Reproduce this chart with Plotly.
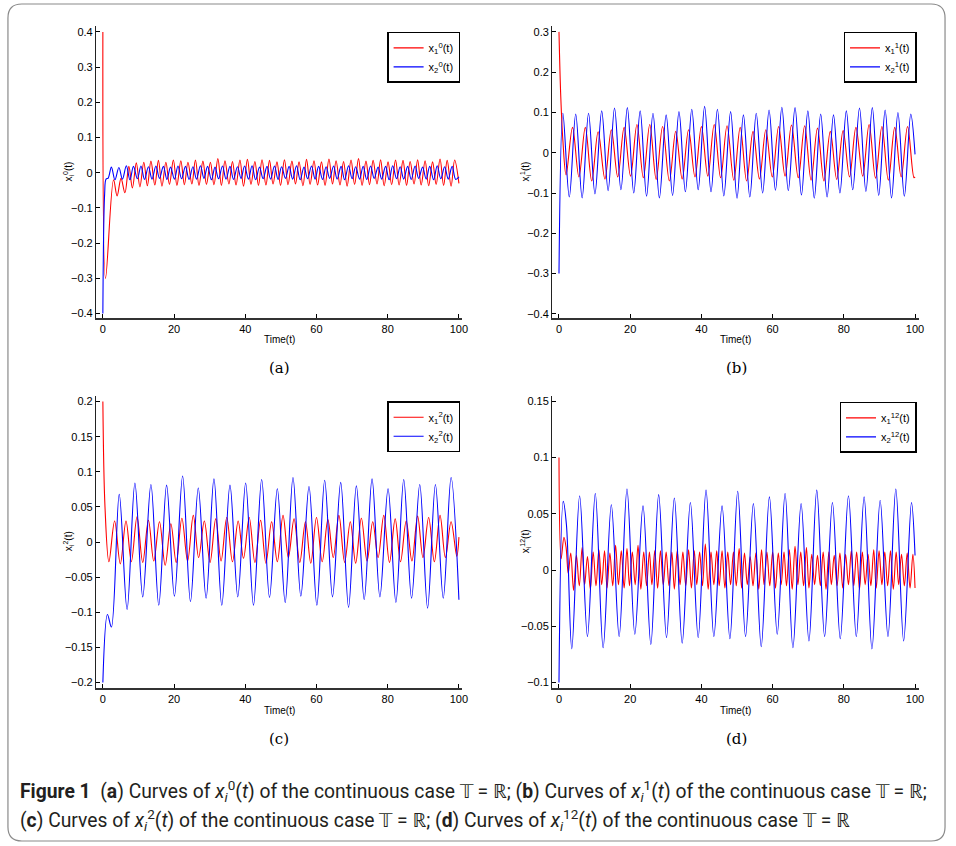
import plotly.graph_objects as go

# ---------------- data ----------------
x_ticks = [0, 20, 40, 60, 80, 100]
x_tick_labels = ["0", "20", "40", "60", "80", "100"]

a_y_ticks = [-0.4, -0.3, -0.2, -0.1, 0, 0.1, 0.2, 0.3, 0.4]
a_y_labels = ["−0.4", "−0.3", "−0.2", "−0.1", "0", "0.1", "0.2", "0.3", "0.4"]
b_y_ticks = [-0.4, -0.3, -0.2, -0.1, 0, 0.1, 0.2, 0.3]
b_y_labels = ["−0.4", "−0.3", "−0.2", "−0.1", "0", "0.1", "0.2", "0.3"]
c_y_ticks = [-0.2, -0.15, -0.1, -0.05, 0, 0.05, 0.1, 0.15, 0.2]
c_y_labels = ["−0.2", "−0.15", "−0.1", "−0.05", "0", "0.05", "0.1", "0.15", "0.2"]
d_y_ticks = [-0.1, -0.05, 0, 0.05, 0.1, 0.15]
d_y_labels = ["−0.1", "−0.05", "0", "0.05", "0.1", "0.15"]

panel_labels = ["(a)", "(b)", "(c)", "(d)"]
x_title = "Time(t)"
y_titles = ["x<sub>i</sub><sup>0</sup>(t)", "x<sub>i</sub><sup>1</sup>(t)",
            "x<sub>i</sub><sup>2</sup>(t)", "x<sub>i</sub><sup>12</sup>(t)"]
legend_names = [["x<sub>1</sub><sup>0</sup>(t)", "x<sub>2</sub><sup>0</sup>(t)"],
                ["x<sub>1</sub><sup>1</sup>(t)", "x<sub>2</sub><sup>1</sup>(t)"],
                ["x<sub>1</sub><sup>2</sup>(t)", "x<sub>2</sub><sup>2</sup>(t)"],
                ["x<sub>1</sub><sup>12</sup>(t)", "x<sub>2</sub><sup>12</sup>(t)"]]

# ---- panel (a), red x1^0 ----
a_red_t_init = [0, 0.75, 3.0, 4.0, 5.1, 6.2]
a_red_v_init = [0.40, -0.30, -0.020, -0.066, -0.016, -0.057]
a_red_t_hi = [7.3, 9.4, 11.5, 13.5, 15.6, 17.7, 19.8, 21.9, 23.9, 26.0, 28.1, 30.2, 32.3, 34.3, 36.4,
              38.5, 40.6, 42.7, 44.7, 46.8, 48.9, 51.0, 53.1, 55.1, 57.2, 59.3, 61.4, 63.5, 65.5, 67.6,
              69.7, 71.8, 73.9, 75.9, 78.0, 80.1, 82.2, 84.3, 86.3, 88.4, 90.5, 92.6, 94.7, 96.7, 98.8]
a_red_v_hi = [0.018, 0.028, 0.030, 0.033, 0.035, 0.030, 0.036, 0.034, 0.030, 0.036,
              0.033, 0.030, 0.040, 0.034, 0.032, 0.036, 0.038, 0.032, 0.037, 0.035,
              0.031, 0.037, 0.033, 0.031, 0.038, 0.034, 0.031, 0.039, 0.034, 0.032,
              0.036, 0.040, 0.033, 0.035, 0.037, 0.031, 0.036, 0.035, 0.032, 0.037,
              0.034, 0.031, 0.039, 0.035, 0.036]
a_red_t_lo = [8.3, 10.4, 12.5, 14.6, 16.6, 18.7, 20.8, 22.9, 25.0, 27.0, 29.1, 31.2, 33.3, 35.4, 37.4,
              39.5, 41.6, 43.7, 45.8, 47.8, 49.9, 52.0, 54.1, 56.2, 58.2, 60.3, 62.4, 64.5, 66.6, 68.6,
              70.7, 72.8, 74.9, 77.0, 79.0, 81.1, 83.2, 85.3, 87.4, 89.4, 91.5, 93.6, 95.7, 97.8, 100.0]
a_red_v_lo = [-0.043, -0.040, -0.037, -0.035, -0.038, -0.033, -0.036, -0.034, -0.032, -0.036,
              -0.033, -0.034, -0.036, -0.032, -0.035, -0.038, -0.033, -0.036, -0.035, -0.032,
              -0.036, -0.034, -0.032, -0.037, -0.033, -0.035, -0.036, -0.032, -0.035, -0.038,
              -0.033, -0.036, -0.034, -0.032, -0.037, -0.034, -0.035, -0.036, -0.032, -0.035,
              -0.037, -0.033, -0.036, -0.038, -0.030]

# ---- panel (a), blue x2^0 ----
a_blue_t_init = [0, 0.5, 0.9, 1.5]
a_blue_v_init = [-0.40, -0.06, -0.018, -0.015]
a_blue_t_hi = [2.4, 4.5, 6.6, 8.6, 10.7, 12.8, 14.9, 17.0, 19.0, 21.1, 23.2, 25.3, 27.4, 29.4, 31.5,
               33.6, 35.7, 37.8, 39.8, 41.9, 44.0, 46.1, 48.2, 50.2, 52.3, 54.4, 56.5, 58.6, 60.6, 62.7,
               64.8, 66.9, 69.0, 71.0, 73.1, 75.2, 77.3, 79.4, 81.4, 83.5, 85.6, 87.7, 89.8, 91.8, 93.9,
               96.0, 98.1]
a_blue_v_hi = [0.016, 0.015, 0.020, 0.018, 0.019, 0.017, 0.019, 0.018, 0.016, 0.019,
               0.018, 0.017, 0.020, 0.018, 0.016, 0.019, 0.018, 0.017, 0.019, 0.020,
               0.016, 0.018, 0.019, 0.017, 0.018, 0.020, 0.016, 0.019, 0.018, 0.017,
               0.019, 0.018, 0.020, 0.017, 0.018, 0.019, 0.016, 0.018, 0.020, 0.017,
               0.018, 0.019, 0.016, 0.018, 0.020, 0.017, 0.018]
a_blue_t_lo = [3.4, 5.5, 7.6, 9.7, 11.7, 13.8, 15.9, 18.0, 20.1, 22.1, 24.2, 26.3, 28.4, 30.5, 32.5,
               34.6, 36.7, 38.8, 40.9, 42.9, 45.0, 47.1, 49.2, 51.3, 53.3, 55.4, 57.5, 59.6, 61.7, 63.7,
               65.8, 67.9, 70.0, 72.1, 74.1, 76.2, 78.3, 80.4, 82.5, 84.5, 86.6, 88.7, 90.8, 92.9, 94.9,
               97.0, 99.1, 100.0]
a_blue_v_lo = [-0.020, -0.018, -0.020, -0.017, -0.019, -0.018, -0.016, -0.019, -0.018, -0.017,
               -0.019, -0.018, -0.016, -0.020, -0.017, -0.018, -0.019, -0.016, -0.018, -0.020,
               -0.017, -0.018, -0.019, -0.016, -0.018, -0.020, -0.017, -0.018, -0.019, -0.016,
               -0.018, -0.020, -0.017, -0.018, -0.019, -0.016, -0.018, -0.020, -0.017, -0.018,
               -0.019, -0.016, -0.018, -0.020, -0.017, -0.018, -0.019, -0.012]

# ---- panel (b), red x1^1 ----
b_red_t_init = [0, 0.5, 1.1]
b_red_v_init = [0.30, 0.14, 0.03]
b_red_t_hi = [3.8, 7.4, 11.0, 14.7, 18.3, 21.9, 25.5, 29.1, 32.8, 36.4, 40.0, 43.6, 47.2, 50.9,
              54.5, 58.1, 61.7, 65.3, 69.0, 72.6, 76.2, 79.8, 83.4, 87.1, 90.7, 94.3, 97.9]
b_red_v_hi = [0.063, 0.063, 0.052, 0.057, 0.063, 0.070, 0.070, 0.065, 0.053, 0.057,
              0.065, 0.070, 0.067, 0.063, 0.053, 0.057, 0.065, 0.069, 0.067, 0.061,
              0.053, 0.055, 0.063, 0.070, 0.065, 0.063, 0.065]
b_red_t_lo = [2.0, 5.6, 9.2, 12.9, 16.5, 20.1, 23.7, 27.3, 31.0, 34.6, 38.2, 41.8, 45.4, 49.1,
              52.7, 56.3, 59.9, 63.5, 67.2, 70.8, 74.4, 78.0, 81.6, 85.3, 88.9, 92.5, 96.1, 99.7, 100.0]
b_red_v_lo = [-0.055, -0.060, -0.070, -0.065, -0.060, -0.058, -0.062, -0.066, -0.070, -0.065,
              -0.060, -0.058, -0.062, -0.068, -0.070, -0.065, -0.060, -0.058, -0.062, -0.068,
              -0.070, -0.066, -0.060, -0.058, -0.063, -0.068, -0.060, -0.062, -0.060]

# ---- panel (b), blue x2^1 ----
b_blue_t_init = [0]
b_blue_v_init = [-0.30]
b_blue_t_hi = [1.1, 4.7, 8.3, 12.0, 15.6, 19.2, 22.8, 26.4, 30.1, 33.7, 37.3, 40.9, 44.5, 48.2,
               51.8, 55.4, 59.0, 62.6, 66.3, 69.9, 73.5, 77.1, 80.7, 84.4, 88.0, 91.6, 95.2, 98.8]
b_blue_v_hi = [0.098, 0.096, 0.098, 0.104, 0.111, 0.112, 0.104, 0.098, 0.094, 0.102,
               0.108, 0.115, 0.108, 0.102, 0.094, 0.098, 0.106, 0.113, 0.112, 0.104,
               0.096, 0.094, 0.104, 0.111, 0.112, 0.106, 0.100, 0.096]
b_blue_t_lo = [2.9, 6.5, 10.1, 13.8, 17.4, 21.0, 24.6, 28.2, 31.9, 35.5, 39.1, 42.7, 46.3, 50.0,
               53.6, 57.2, 60.8, 64.4, 68.1, 71.7, 75.3, 78.9, 82.5, 86.2, 89.8, 93.4, 97.0, 100.0]
b_blue_v_lo = [-0.110, -0.112, -0.102, -0.094, -0.092, -0.100, -0.108, -0.112, -0.106, -0.097,
               -0.092, -0.097, -0.107, -0.113, -0.110, -0.100, -0.093, -0.094, -0.105, -0.113,
               -0.110, -0.100, -0.092, -0.096, -0.106, -0.112, -0.108, -0.004]

# ---- panel (c), red x1^2 ----
c_red_t_init = [0, 0.6]
c_red_v_init = [0.20, 0.05]
c_red_t_hi = [3.3, 6.5, 9.6, 12.8, 15.9, 19.1, 22.2, 25.4, 28.5, 31.7, 34.8, 38.0, 41.1, 44.3, 47.4,
              50.6, 53.7, 56.9, 60.0, 63.2, 66.3, 69.5, 72.6, 75.8, 78.9, 82.1, 85.2, 88.4, 91.5, 94.7,
              97.8]
c_red_v_hi = [0.030, 0.030, 0.036, 0.031, 0.029, 0.026, 0.034, 0.038, 0.030, 0.033,
              0.035, 0.030, 0.035, 0.031, 0.029, 0.038, 0.033, 0.029, 0.035, 0.032,
              0.038, 0.029, 0.034, 0.029, 0.038, 0.033, 0.030, 0.037, 0.035, 0.038,
              0.029]
c_red_t_lo = [1.7, 4.9, 8.0, 11.2, 14.3, 17.5, 20.6, 23.8, 26.9, 30.1, 33.2, 36.4, 39.5, 42.7, 45.8,
              49.0, 52.1, 55.3, 58.4, 61.6, 64.7, 67.9, 71.0, 74.2, 77.3, 80.5, 83.6, 86.8, 89.9, 93.1,
              96.2, 99.4, 100.0]
c_red_v_lo = [-0.028, -0.031, -0.028, -0.029, -0.027, -0.033, -0.029, -0.027, -0.022, -0.029,
              -0.027, -0.028, -0.023, -0.029, -0.030, -0.028, -0.022, -0.029, -0.030, -0.028,
              -0.022, -0.029, -0.030, -0.027, -0.022, -0.029, -0.028, -0.027, -0.022, -0.028,
              -0.022, -0.020, 0.007]

# ---- panel (c), blue x2^2 ----
c_blue_t_init = [0, 1.3, 2.4]
c_blue_v_init = [-0.20, -0.103, -0.121]
c_blue_t_hi = [4.6, 9.0, 13.5, 17.9, 22.4, 26.8, 31.2, 35.7, 40.1, 44.6, 49.0, 53.4, 57.9, 62.3,
               66.8, 71.2, 75.6, 80.1, 84.5, 89.0, 93.4, 97.8]
c_blue_v_hi = [0.068, 0.084, 0.082, 0.081, 0.094, 0.077, 0.090, 0.081, 0.084, 0.089, 0.076,
               0.092, 0.079, 0.088, 0.085, 0.080, 0.090, 0.076, 0.089, 0.082, 0.082, 0.092]
c_blue_t_lo = [6.8, 11.2, 15.7, 20.1, 24.6, 29.0, 33.4, 37.9, 42.3, 46.8, 51.2, 55.6, 60.1, 64.5,
               69.0, 73.4, 77.8, 82.3, 86.7, 91.2, 95.6, 100.0]
c_blue_v_lo = [-0.096, -0.078, -0.090, -0.077, -0.085, -0.080, -0.090, -0.078, -0.090, -0.079,
               -0.086, -0.077, -0.090, -0.078, -0.093, -0.082, -0.078, -0.086, -0.080, -0.094,
               -0.080, -0.082]

# ---- panel (d), red x1^12 ----
d_red_t_init = [0, 0.6, 1.4, 2.0, 2.6]
d_red_v_init = [0.100, 0.010, 0.029, 0.020, -0.003]
d_red_t_hi = [3.3, 4.9, 6.5, 8.0, 9.6, 11.2, 12.8, 14.3, 15.9, 17.5,
              19.1, 20.6, 22.2, 23.8, 25.4, 26.9, 28.5, 30.1, 31.7, 33.2,
              34.8, 36.4, 38.0, 39.5, 41.1, 42.7, 44.3, 45.8, 47.4, 49.0,
              50.6, 52.1, 53.7, 55.3, 56.9, 58.4, 60.0, 61.6, 63.2, 64.7,
              66.3, 67.9, 69.5, 71.0, 72.6, 74.2, 75.8, 77.3, 78.9, 80.5,
              82.1, 83.6, 85.2, 86.8, 88.4, 89.9, 91.5, 93.1, 94.7, 96.2,
              97.8, 99.4]
d_red_v_hi = [0.015, 0.013, 0.020, 0.012, 0.016, 0.018, 0.017, 0.015, 0.022, 0.017,
              0.019, 0.016, 0.022, 0.016, 0.016, 0.017, 0.017, 0.016, 0.016, 0.017,
              0.016, 0.018, 0.017, 0.016, 0.023, 0.016, 0.017, 0.017, 0.016, 0.016,
              0.019, 0.015, 0.012, 0.015, 0.018, 0.016, 0.016, 0.015, 0.016, 0.018,
              0.021, 0.016, 0.020, 0.014, 0.013, 0.016, 0.016, 0.013, 0.015, 0.014,
              0.017, 0.016, 0.016, 0.014, 0.018, 0.017, 0.016, 0.017, 0.016, 0.014,
              0.015, 0.014]
d_red_t_lo = [4.1, 5.7, 7.2, 8.8, 10.4, 12.0, 13.5, 15.1, 16.7, 18.3,
              19.8, 21.4, 23.0, 24.6, 26.1, 27.7, 29.3, 30.9, 32.4, 34.0,
              35.6, 37.2, 38.7, 40.3, 41.9, 43.5, 45.0, 46.6, 48.2, 49.8,
              51.3, 52.9, 54.5, 56.1, 57.6, 59.2, 60.8, 62.4, 63.9, 65.5,
              67.1, 68.7, 70.2, 71.8, 73.4, 75.0, 76.5, 78.1, 79.7, 81.3,
              82.8, 84.4, 86.0, 87.6, 89.1, 90.7, 92.3, 93.9, 95.4, 97.0,
              98.6, 100.0]
d_red_v_lo = [-0.018, -0.014, -0.013, -0.017, -0.014, -0.013, -0.016, -0.014, -0.013, -0.016,
              -0.014, -0.013, -0.017, -0.014, -0.013, -0.016, -0.013, -0.014, -0.017, -0.013,
              -0.014, -0.016, -0.013, -0.014, -0.017, -0.013, -0.014, -0.016, -0.013, -0.014,
              -0.016, -0.013, -0.014, -0.017, -0.013, -0.014, -0.016, -0.013, -0.014, -0.017,
              -0.013, -0.014, -0.016, -0.013, -0.014, -0.017, -0.013, -0.014, -0.016, -0.013,
              -0.014, -0.017, -0.013, -0.014, -0.016, -0.013, -0.014, -0.017, -0.013, -0.014,
              -0.016, -0.016]

# ---- panel (d), blue x2^12 ----
d_blue_t_init = [0, 1.2, 2.1, 3.6]
d_blue_v_init = [-0.10, 0.061, 0.040, -0.070]
d_blue_t_hi = [5.8, 10.2, 14.7, 19.1, 23.6, 28.0, 32.4, 36.9, 41.3, 45.8, 50.2, 54.6, 59.1, 63.5,
               68.0, 72.4, 76.8, 81.3, 85.7, 90.2, 94.6, 99.0]
d_blue_v_hi = [0.066, 0.068, 0.058, 0.072, 0.057, 0.067, 0.064, 0.060, 0.071, 0.057, 0.070,
               0.059, 0.065, 0.068, 0.059, 0.071, 0.060, 0.066, 0.065, 0.062, 0.072, 0.060]
d_blue_t_lo = [8.0, 12.4, 16.9, 21.3, 25.8, 30.2, 34.6, 39.1, 43.5, 48.0, 52.4, 56.8, 61.3, 65.7,
               70.2, 74.6, 79.0, 83.5, 87.9, 92.4, 96.8, 100.0]
d_blue_v_lo = [-0.059, -0.069, -0.059, -0.057, -0.066, -0.060, -0.065, -0.060, -0.059, -0.061,
               -0.059, -0.068, -0.057, -0.069, -0.063, -0.059, -0.061, -0.059, -0.070, -0.059,
               -0.063, 0.013]

caption_line1 = ("<b>Figure 1</b>&#160;&#160;(<b>a</b>) Curves of <i>x</i><sub><i>i</i></sub><sup>0</sup>(<i>t</i>) "
                 "of the continuous case 𝕋 = ℝ; (<b>b</b>) Curves of <i>x</i><sub><i>i</i></sub><sup>1</sup>(<i>t</i>) "
                 "of the continuous case 𝕋 = ℝ;")
caption_line2 = ("(<b>c</b>) Curves of <i>x</i><sub><i>i</i></sub><sup>2</sup>(<i>t</i>) of the continuous case 𝕋 = ℝ; "
                 "(<b>d</b>) Curves of <i>x</i><sub><i>i</i></sub><sup>12</sup>(<i>t</i>) of the continuous case 𝕋 = ℝ")


# ---------------- helpers ----------------
def merge(*pairs):
    pts = []
    for ts, vs in pairs:
        pts.extend(zip(ts, vs))
    pts.sort(key=lambda p: p[0])
    return [p[0] for p in pts], [p[1] for p in pts]


series = [
    (merge((a_red_t_init, a_red_v_init), (a_red_t_hi, a_red_v_hi), (a_red_t_lo, a_red_v_lo)),
     merge((a_blue_t_init, a_blue_v_init), (a_blue_t_hi, a_blue_v_hi), (a_blue_t_lo, a_blue_v_lo))),
    (merge((b_red_t_init, b_red_v_init), (b_red_t_hi, b_red_v_hi), (b_red_t_lo, b_red_v_lo)),
     merge((b_blue_t_init, b_blue_v_init), (b_blue_t_hi, b_blue_v_hi), (b_blue_t_lo, b_blue_v_lo))),
    (merge((c_red_t_init, c_red_v_init), (c_red_t_hi, c_red_v_hi), (c_red_t_lo, c_red_v_lo)),
     merge((c_blue_t_init, c_blue_v_init), (c_blue_t_hi, c_blue_v_hi), (c_blue_t_lo, c_blue_v_lo))),
    (merge((d_red_t_init, d_red_v_init), (d_red_t_hi, d_red_v_hi), (d_red_t_lo, d_red_v_lo)),
     merge((d_blue_t_init, d_blue_v_init), (d_blue_t_hi, d_blue_v_hi), (d_blue_t_lo, d_blue_v_lo))),
]

W, H = 956, 846
px = lambda v: v / W
py = lambda v: (H - v) / H

x_domains = [[px(96.7), px(465.4)], [px(555.7), px(924.4)]] * 2
y_domains = [[py(318.3), py(25)]] * 2 + [[py(689), py(396)]] * 2
y_ranges = [[-0.413, 0.417], [-0.4106, 0.3148], [-0.2071, 0.2085], [-0.1044, 0.155]]
y_tick_sets = [(a_y_ticks, a_y_labels), (b_y_ticks, b_y_labels),
               (c_y_ticks, c_y_labels), (d_y_ticks, d_y_labels)]
legend_pos = [(px(463), py(31)), (px(922.3), py(31)), (px(463), py(401.7)), (px(922.3), py(402.3))]
label_pos = [(281, 368), (741, 368), (281, 741), (741, 741)]
xtitle_pos = [(281, 340), (740, 340), (281, 712), (740, 712)]
ytitle_pos = [(69, 171.5), (529, 171.5), (69, 542.5), (529, 542.5)]

sans = "Liberation Sans, Arial, Helvetica, sans-serif"
tick_font = dict(family=sans, size=11, color="#000")

fig = go.Figure()
layout = dict(
    width=W, height=H, margin=dict(l=0, r=0, t=0, b=0),
    paper_bgcolor="white", plot_bgcolor="white",
    showlegend=True, annotations=[], shapes=[],
)

for i in range(4):
    n = "" if i == 0 else str(i + 1)
    leg = "legend" if i == 0 else "legend" + str(i + 1)
    (rt, rv), (bt, bv) = series[i]
    fig.add_trace(go.Scatter(x=rt, y=rv, mode="lines", name=legend_names[i][0],
                             line=dict(color="#ff0000", width=1.1, shape="spline", smoothing=1.0),
                             xaxis="x" + n, yaxis="y" + n, legend=leg))
    fig.add_trace(go.Scatter(x=bt, y=bv, mode="lines", name=legend_names[i][1],
                             line=dict(color="#0000ff", width=1.1, shape="spline", smoothing=1.0),
                             xaxis="x" + n, yaxis="y" + n, legend=leg))
    layout["xaxis" + n] = dict(
        domain=x_domains[i], anchor="y" + n, range=[-1.9, 101],
        tickmode="array", tickvals=x_ticks, ticktext=x_tick_labels,
        ticks="inside", ticklen=4, tickwidth=1, tickcolor="#000",
        showline=True, linecolor="#333", linewidth=1.5, mirror=False,
        showgrid=False, zeroline=False, tickfont=tick_font,
    )
    yt, yl = y_tick_sets[i]
    layout["yaxis" + n] = dict(
        domain=y_domains[i], anchor="x" + n, range=y_ranges[i],
        tickmode="array", tickvals=yt, ticktext=yl,
        ticks="inside", ticklen=4, tickwidth=1, tickcolor="#000",
        showline=True, linecolor="#222", linewidth=1.3, mirror=False,
        showgrid=False, zeroline=False, tickfont=tick_font,
    )
    lx, ly = legend_pos[i]
    layout[leg] = dict(
        x=lx, y=ly, xanchor="right", yanchor="top", xref="paper", yref="paper",
        bgcolor="white", bordercolor="#000", borderwidth=1.5,
        font=dict(family=sans, size=11, color="#000"),
        itemwidth=30, tracegroupgap=0,
    )
    lpx, lpy = label_pos[i]
    layout["annotations"].append(dict(
        text=panel_labels[i], x=px(lpx), y=py(lpy), xref="paper", yref="paper",
        showarrow=False, xanchor="center", yanchor="middle",
        font=dict(family="DejaVu Serif, Liberation Serif, serif", size=15, color="#000")))
    tx, ty = xtitle_pos[i]
    layout["annotations"].append(dict(
        text=x_title, x=px(tx), y=py(ty), xref="paper", yref="paper",
        showarrow=False, xanchor="center", yanchor="middle",
        font=dict(family=sans, size=10, color="#000")))
    vx, vy = ytitle_pos[i]
    layout["annotations"].append(dict(
        text=y_titles[i], x=px(vx), y=py(vy), xref="paper", yref="paper", textangle=-90,
        showarrow=False, xanchor="center", yanchor="middle",
        font=dict(family=sans, size=10, color="#000")))

cap_font = dict(family="Roboto, Noto Sans, sans-serif", size=19.3, color="#231f20")
layout["annotations"].append(dict(text=caption_line1, x=px(18), y=py(793), xref="paper", yref="paper",
                                  showarrow=False, xanchor="left", yanchor="middle", font=cap_font))
layout["annotations"].append(dict(text=caption_line2, x=px(18), y=py(822), xref="paper", yref="paper",
                                  showarrow=False, xanchor="left", yanchor="middle", font=cap_font))

# rounded outer frame
x0, x1, y0, y1, r = 8, 951, 3, 843, 14
rx, ry = r / W, r / H
path = (f"M {px(x0)+rx},{py(y0)} L {px(x1)-rx},{py(y0)} Q {px(x1)},{py(y0)} {px(x1)},{py(y0)-ry} "
        f"L {px(x1)},{py(y1)+ry} Q {px(x1)},{py(y1)} {px(x1)-rx},{py(y1)} "
        f"L {px(x0)+rx},{py(y1)} Q {px(x0)},{py(y1)} {px(x0)},{py(y1)+ry} "
        f"L {px(x0)},{py(y0)-ry} Q {px(x0)},{py(y0)} {px(x0)+rx},{py(y0)} Z")
layout["shapes"].append(dict(type="path", path=path, xref="paper", yref="paper",
                             line=dict(color="#8a8a8a", width=1.2)))

fig.update_layout(**layout)
fig.write_html("out.html", config={"displayModeBar": False},
               post_script="document.body.style.margin='0';document.body.style.overflow='hidden';")
